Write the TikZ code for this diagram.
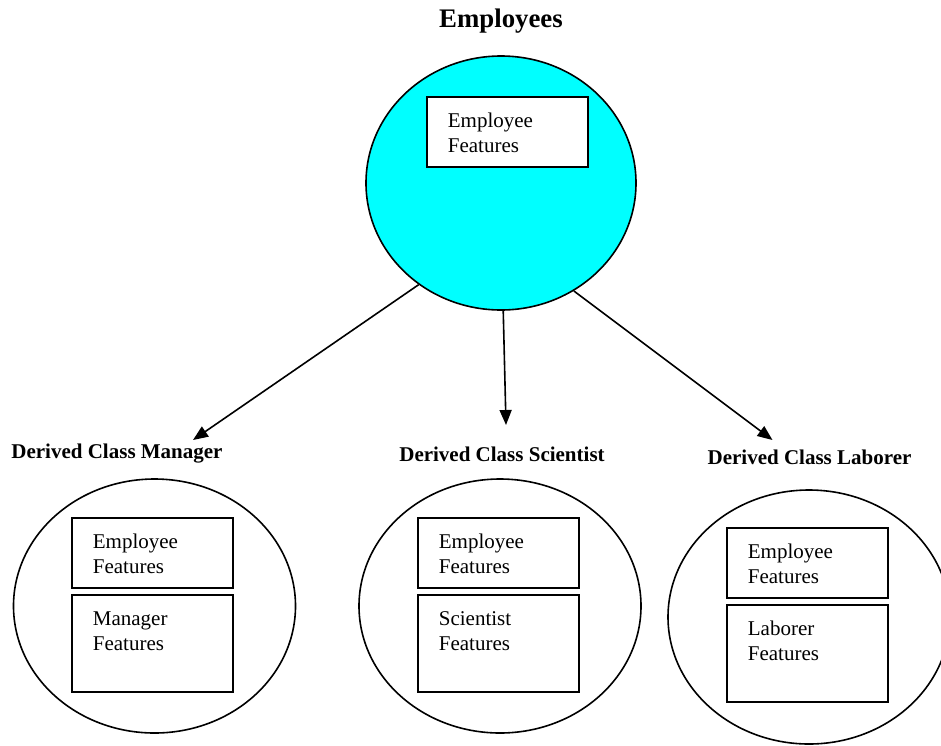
\documentclass[tikz,border=0pt]{standalone}
\usepackage{fontspec}
\setmainfont{Liberation Serif}
\usetikzlibrary{shapes.geometric,arrows.meta}
\definecolor{aqua}{RGB}{0,255,255}
\tikzset{
  cls/.style={ellipse,draw,line width=1.6pt,inner sep=0pt},
  featbox/.style={draw,fill=white,line width=1.8pt,anchor=north west,inner xsep=21pt,inner ysep=0pt,
    text width=119pt,align=left,text height=31pt,font=\fontsize{21}{25}\selectfont},
  clslbl/.style={font=\bfseries\fontsize{21}{24}\selectfont},
  arr/.style={-{Triangle[length=15pt,width=12pt]},line width=1.6pt}
}
\begin{document}
\begin{tikzpicture}[x=1pt,y=-1pt]
\useasboundingbox (0,0) rectangle (941,745);
% base class
\node[font=\bfseries\fontsize{26.8}{30}\selectfont] (title) at (501,21) {Employees};
\node[cls,fill=aqua,minimum width=270pt,minimum height=254pt] (emp) at (501,183) {};
\node[featbox,text depth=39pt] (empbox) at (426,96) {Employee\\Features};
% derived classes
\foreach \n/\cx/\cy/\bx/\by/\lx/\ly/\what in {mgr/154.5/606/71/517/117/454/Manager,
    sci/500/606/417/517/502/454/Scientist, lab/809/617/726/527/809.5/457/Laborer} {
  \node[cls,minimum width=282pt,minimum height=254pt] (\n) at (\cx,\cy) {};
  \node[clslbl] (\n-lbl) at (\lx,\ly) {Derived Class \what};
  \node[featbox,text depth=39pt] (\n-top) at (\bx,\by) {Employee\\Features};
  \node[featbox,text depth=66pt] (\n-low) at ([yshift=-5pt]\n-top.south west) {\what\\Features};
}
\draw[arr] (emp.231) -- ([shift={(76,-14)}]mgr-lbl.center);
\draw[arr] (emp.-89) -- ([shift={(4,-29)}]sci-lbl.center);
\draw[arr] (emp.-56) -- ([shift={(-37,-17)}]lab-lbl.center);
\end{tikzpicture}
\end{document}
